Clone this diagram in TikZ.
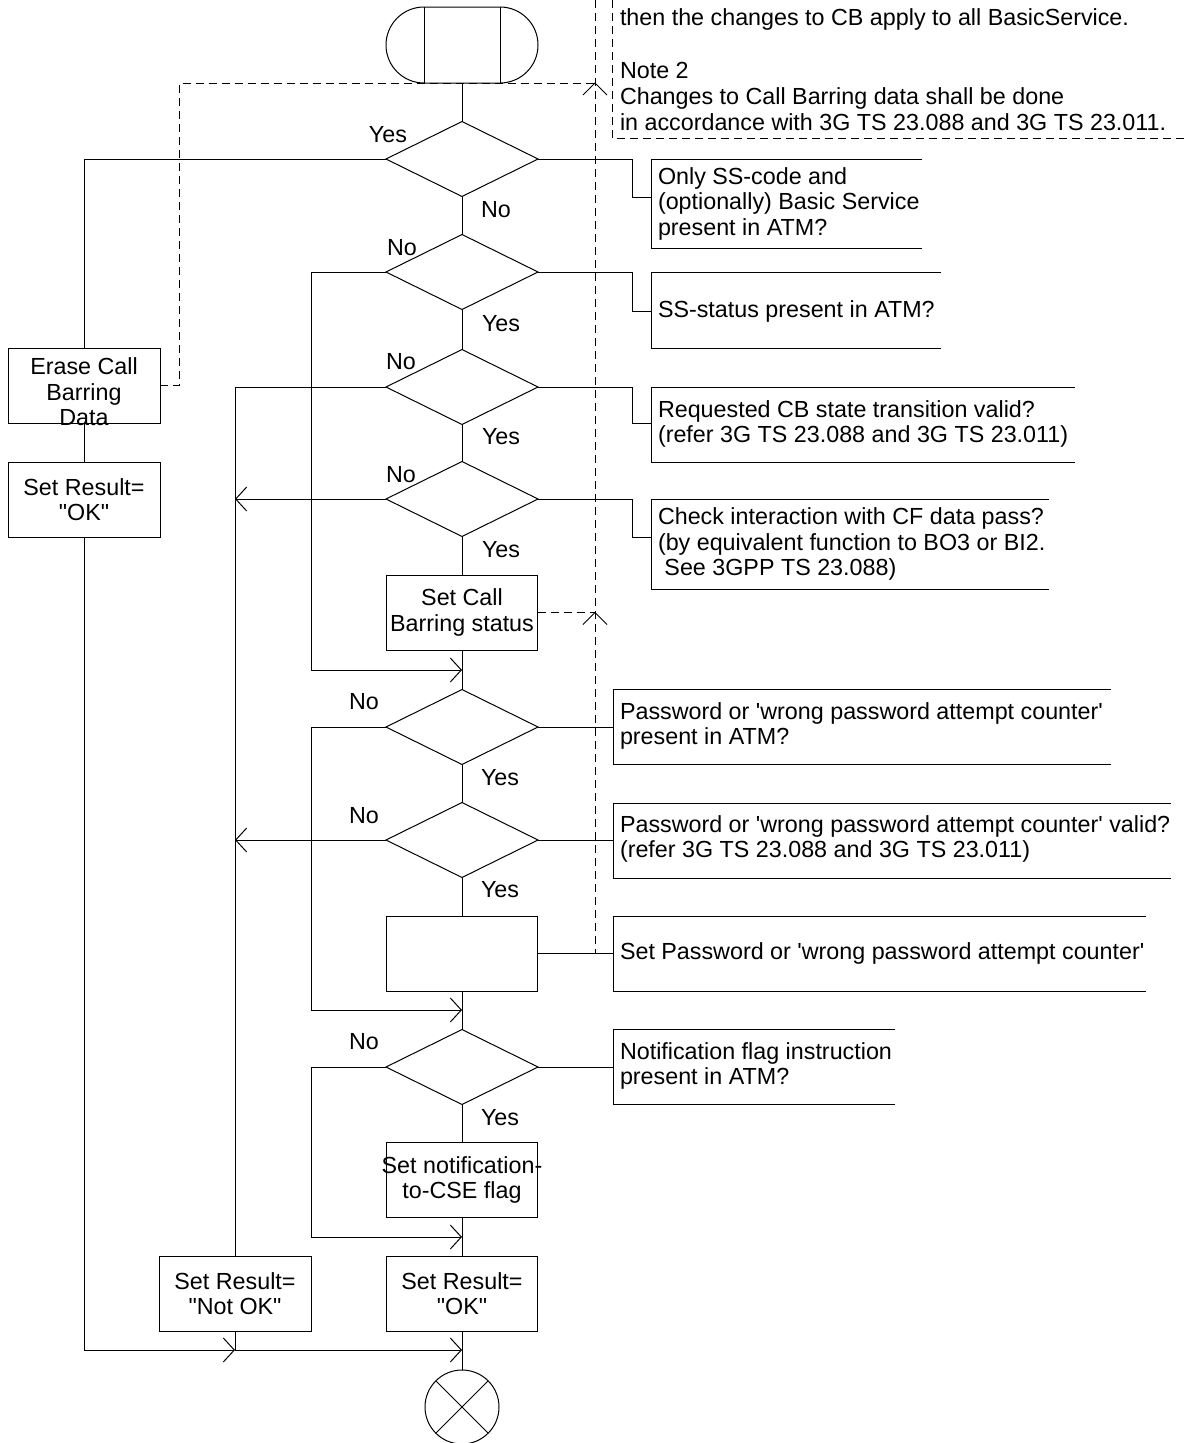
\documentclass[tikz,border=0pt]{standalone}
\usepackage{fontspec}
\setmainfont{Liberation Sans}
\usetikzlibrary{shapes.geometric,shapes.misc,arrows.meta}
\begin{document}
\begin{tikzpicture}[x=1pt,y=-1pt,
  every node/.style={font=\fontsize{23.3}{25.5}\selectfont, inner sep=0pt, outer sep=0pt},
  ln/.style={line width=1pt},
  dsh/.style={line width=1pt, dash pattern=on 8pt off 5pt},
  arr/.style={-{Straight Barb[length=11pt,width=24pt]}},
  dec/.style={draw, line width=1pt, diamond, minimum width=152pt, minimum height=75pt},
  proc/.style={draw, line width=1pt, rectangle, minimum width=151pt, minimum height=75pt, align=center},
  term/.style={draw, line width=1pt, rounded rectangle, minimum width=152pt, minimum height=76pt},
  note/.style={align=left, anchor=west},
  ntxt/.style={anchor=base west}
]
\useasboundingbox (0,0) rectangle (1185,1443);

% ---- note at top ----
\draw[dsh] (612,0) -- (612,138) -- (1185,138);
\node[ntxt] (n1) at (620,25) {then the changes to CB apply to all BasicService.};
\node[ntxt] (n2) at (620,78) {Note 2};
\node[ntxt] (n3) at (620,104) {Changes to Call Barring data shall be done};
\node[ntxt] (n4) at (620,130) {in accordance with 3G TS 23.088 and 3G TS 23.011.};

% ---- main column ----
\node[term] (start) at (462,45) {};
\draw[ln] ([xshift=-38pt]start.north) -- ([xshift=-38pt]start.south);
\draw[ln] ([xshift=38pt]start.north) -- ([xshift=38pt]start.south);

\node[dec] (d1) at (462,159) {};
\node[dec] (d2) at (462,272) {};
\node[dec] (d3) at (462,387) {};
\node[dec] (d4) at (462,499) {};
\node[proc] (setcb) at (462,612.5) {Set Call\\Barring status};
\node[dec] (d5) at (462,727) {};
\node[dec] (d6) at (462,840) {};
\node[proc] (setpw) at (462,953.5) {};
\node[dec] (d7) at (462,1067) {};
\node[proc] (setnf) at (462,1180) {\makebox[0pt]{Set notification-}\\to-CSE flag};
\node[proc] (setok) at (462,1293.5) {Set Result=\\\textquotedbl OK\textquotedbl};
\node[draw, line width=1pt, circle, minimum size=74pt] (end) at (462,1407) {};
\draw[ln] (end.north west) -- (end.south east);
\draw[ln] (end.north east) -- (end.south west);

% ---- left column ----
\node[proc, minimum width=152pt] (erase) at (84,385.5) {};
\node (erasetxt) at (84,392) [align=center] {Erase Call\\Barring\\Data};
\node[proc, minimum width=152pt] (okL) at (84,499.5) {Set Result=\\\textquotedbl OK\textquotedbl};
\node[proc, minimum width=152pt] (notok) at (235,1293.5) {Set Result=\\\textquotedbl Not OK\textquotedbl};

\coordinate (m1) at (462,670);
\coordinate (m2) at (462,1010);
\coordinate (m3) at (462,1237);
\coordinate (j4) at (235,1350);
\coordinate (m4) at (462,1350);

% main flow
\draw[ln] (start) -- (d1);
\draw[ln] (d1) -- (d2);
\draw[ln] (d2) -- (d3);
\draw[ln] (d3) -- (d4);
\draw[ln] (d4) -- (setcb);
\draw[ln] (setcb) -- (d5);
\draw[ln] (d5) -- (d6);
\draw[ln] (d6) -- (setpw);
\draw[ln] (setpw) -- (d7);
\draw[ln] (d7) -- (setnf);
\draw[ln] (setnf) -- (setok);
\draw[ln] (setok) -- (end);

% branches
\draw[ln] (d1.west) -| (erase.north);
\draw[ln] (erase) -- (okL);
\draw[ln,arr] (okL.south) |- (j4);
\draw[ln] (notok.south) -- (j4);
\draw[ln,arr] (j4) -- (m4);
\draw[ln,arr] (d2.west) -| (311,670) -- (m1);
\draw[ln] (d3.west) -| (notok.north);
\draw[ln,arr] (d4.west) -- (d4.west -| notok.north);
\draw[ln,arr] (d5.west) -| (311,1010) -- (m2);
\draw[ln,arr] (d6.west) -- (d6.west -| notok.north);
\draw[ln,arr] (d7.west) -| (311,1237) -- (m3);

% dashed comment links
\coordinate (c1) at (595,83);
\coordinate (c2) at (595,612.5);
\coordinate (c3) at (595,953.5);
\draw[dsh] (595,0) -- (c3);
\draw[dsh] (erase.east) -| (179,83) -- (c1);
\draw[ln] (c1) ++(-12,12) -- (c1) -- ++(12,12);
\draw[dsh] (setcb.east) -- (c2);
\draw[ln] (c2) ++(-12,12) -- (c2) -- ++(12,12);

% ---- annotation boxes ----
\node[note] (t1) at (658,203.5) {Only SS-code and\\(optionally) Basic Service\\present in ATM?};
\draw[ln] (922,159) -- (651,159) -- (651,248) -- (922,248);
\draw[ln] (d1.east) -- (632,159) |- (651,197);

\node[note] (t2) at (658,311) {SS-status present in ATM?};
\draw[ln] (941,272) -- (651,272) -- (651,348) -- (941,348);
\draw[ln] (d2.east) -- (632,272) |- (651,311);

\node[note] (t3) at (658,424) {Requested CB state transition valid?\\(refer 3G TS 23.088 and 3G TS 23.011)};
\draw[ln] (1075,387) -- (651,387) -- (651,462) -- (1075,462);
\draw[ln] (d3.east) -- (632,387) |- (651,423);

\node[note] (t4) at (658,544) {Check interaction with CF data pass?\\(by equivalent function to BO3 or BI2.\\\ See 3GPP TS 23.088)};
\draw[ln] (1049,499) -- (651,499) -- (651,589) -- (1049,589);
\draw[ln] (d4.east) -- (632,499) |- (651,537);

\node[note] (t5) at (620,726) {Password or \textquotesingle wrong password attempt counter\textquotesingle\\present in ATM?};
\draw[ln] (1111,689) -- (613,689) -- (613,764) -- (1111,764);
\draw[ln] (d5.east) -- (613,727);

\node[note] (t6) at (620,839) {Password or \textquotesingle wrong password attempt counter\textquotesingle\ valid?\\(refer 3G TS 23.088 and 3G TS 23.011)};
\draw[ln] (1171,803) -- (613,803) -- (613,878) -- (1171,878);
\draw[ln] (d6.east) -- (613,840);

\node[note] (t7) at (620,953.5) {Set Password or \textquotesingle wrong password attempt counter\textquotesingle};
\draw[ln] (1146,916) -- (613,916) -- (613,991) -- (1146,991);
\draw[ln] (setpw.east) -- (613,953.5);

\node[note] (t8) at (620,1066) {Notification flag instruction\\present in ATM?};
\draw[ln] (895,1029) -- (613,1029) -- (613,1104) -- (895,1104);
\draw[ln] (d7.east) -- (613,1067);

% ---- Yes / No labels ----
\node (y1) at (388,135) {Yes};
\node (no1) at (496,210) {No};
\node (no2) at (402,248) {No};
\node (y2) at (501,324) {Yes};
\node (no3) at (401,362) {No};
\node (y3) at (501,437) {Yes};
\node (no4) at (401,475) {No};
\node (y4) at (501,550) {Yes};
\node (no5) at (364,702) {No};
\node (y5) at (500,778) {Yes};
\node (no6) at (364,816) {No};
\node (y6) at (500,890) {Yes};
\node (no7) at (364,1042) {No};
\node (y7) at (500,1118) {Yes};
\end{tikzpicture}
\end{document}
